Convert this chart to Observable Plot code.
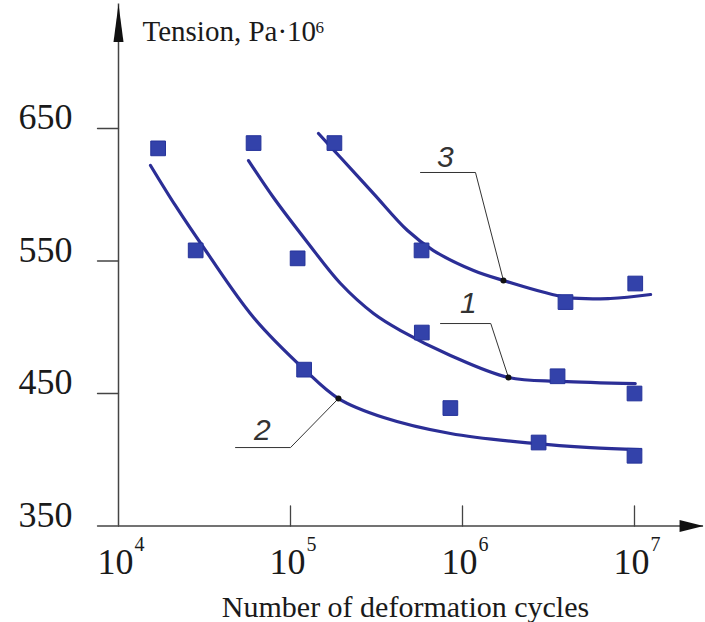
<!DOCTYPE html>
<html><head><meta charset="utf-8">
<script src="https://cdn.jsdelivr.net/npm/d3@7"></script>
<script src="https://cdn.jsdelivr.net/npm/@observablehq/plot@0.6"></script>
<style>body{margin:0;background:#fff;} svg{display:block}</style>
</head><body><div id="chart"></div>
<script>
// ---- axis definitions ----
const yTicks = [350, 450, 550, 650];
const xTicks = [1e4, 1e5, 1e6, 1e7];
const xTickBase = "10";
const xTickExp = ["4", "5", "6", "7"];
const yTitle = "Tension, Pa·10";
const yTitleExp = "6";
const xTitle = "Number of deformation cycles";
const xAxisEnd = 2.52e7;   // arrow tip of the x axis (cycles)
const yAxisEnd = 744;      // arrow tip of the y axis (Pa·10^6)

// ---- measured points (squares) ----
const series1N = [6.1e4, 1.10e5, 5.8e5, 3.57e6, 1e7];
const series1S = [639, 552, 496, 463, 450];
const series2N = [1.7e4, 2.81e4, 1.2e5, 8.5e5, 2.77e6, 1e7];
const series2S = [635, 558, 468, 439, 413, 403];
const series3N = [1.8e5, 5.78e5, 3.97e6, 1.01e7];
const series3S = [639, 558, 519, 533];

// ---- fitted curves ----
const curve1N = [5.70e4, 7.96e4, 1.256e5, 1.954e5, 3.04e5, 4.37e5, 8.51e5, 1.85e6, 3.72e6, 1.01e7];
const curve1S = [625.8, 597.9, 564.0, 533.0, 510.4, 497.5, 478.7, 462.1, 459.1, 457.5];
const curve2N = [1.535e4, 2.14e4, 3.21e4, 6.10e4, 1.205e5, 1.90e5, 3.48e5, 8.51e5, 2.59e6, 5.55e6, 1.08e7];
const curve2S = [622.1, 591.9, 557.9, 507.4, 468.1, 446.2, 431.9, 419.8, 412.3, 409.2, 407.7];
const curve3N = [1.455e5, 1.954e5, 3.04e5, 4.79e5, 6.78e5, 1.159e6, 1.73e6, 4.07e6, 7.24e6, 1.24e7];
const curve3S = [646.2, 628.1, 600.9, 573.0, 557.9, 542.8, 535.3, 522.5, 521.7, 524.7];

// ---- callout labels ----
const calloutText = ["1", "2", "3"];
const calloutLabelN = [1.08e6, 6.87e4, 7.96e5];
const calloutLabelS = [517.9, 422.1, 628.5];
const leaderSeries = ["1", "1", "1", "2", "2", "2", "3", "3", "3"];
const leaderN = [7.45e5, 1.46e6, 1.85e6, 4.79e4, 1.0e5, 1.90e5, 5.70e5, 1.19e6, 1.73e6];
const leaderS = [502.8, 502.8, 462.1, 409.2, 409.2, 446.2, 616.8, 616.8, 535.3];
const calloutDotN = [1.85e6, 1.90e5, 1.73e6];
const calloutDotS = [462.1, 446.2, 535.3];

// ---- build tables ----
const points = [
  ...series1N.map((n, i) => ({series: "1", n, s: series1S[i]})),
  ...series2N.map((n, i) => ({series: "2", n, s: series2S[i]})),
  ...series3N.map((n, i) => ({series: "3", n, s: series3S[i]}))
];
const curves = [
  ...curve1N.map((n, i) => ({series: "1", n, s: curve1S[i]})),
  ...curve2N.map((n, i) => ({series: "2", n, s: curve2S[i]})),
  ...curve3N.map((n, i) => ({series: "3", n, s: curve3S[i]}))
];
const leaders = leaderN.map((n, i) => ({series: leaderSeries[i], n, s: leaderS[i]}));
const labels = calloutText.map((t, i) => ({t, n: calloutLabelN[i], s: calloutLabelS[i]}));
const dots = calloutDotN.map((n, i) => ({n, s: calloutDotS[i]}));

const filledHead = {draw(c, l, r) { c.moveTo(-r, 0); c.lineTo(0, -l); c.lineTo(r, 0); c.closePath(); }};
const tickLine = {draw(c, l) { c.moveTo(0, 0); c.lineTo(0, -l); }};

const axisColor = "#444";
const textColor = "#1a1a1a";
const lineColor = "#2b2e96";

const chart = Plot.plot({
  width: 705,
  height: 622,
  marginLeft: 118,
  marginRight: 71,
  marginTop: 128,
  marginBottom: 96.5,
  style: {fontFamily: "Liberation Serif", background: "#fff", color: textColor},
  x: {type: "log", domain: [1e4, 1e7], axis: null},
  y: {domain: [350, 650], axis: null},
  marks: [
    // axis lines
    Plot.ruleY([350], {x1: 1e4, x2: xAxisEnd, stroke: axisColor, strokeWidth: 1.5}),
    Plot.ruleX([1e4], {y1: 350, y2: yAxisEnd, stroke: axisColor, strokeWidth: 1.5}),
    Plot.vector([xAxisEnd], {x: d => d, y: 350, rotate: 90, length: 24, r: 6, anchor: "end", shape: filledHead, fill: "#111", stroke: "none"}),
    Plot.vector([yAxisEnd], {x: 1e4, y: d => d, rotate: 0, length: 38, r: 5, anchor: "end", shape: filledHead, fill: "#111", stroke: "none"}),
    // y ticks (outward) and labels
    Plot.vector(yTicks, {y: d => d, frameAnchor: "left", rotate: -90, length: 21, r: 0, anchor: "start", shape: tickLine, stroke: axisColor, strokeWidth: 1.3}),
    Plot.text(yTicks, {y: d => d, frameAnchor: "left", text: d => String(d), textAnchor: "end", lineAnchor: "middle", dx: -46, dy: -11, fontSize: 36, fill: textColor}),
    // x ticks (inward) and labels
    Plot.vector(xTicks.slice(1), {x: d => d, frameAnchor: "bottom", length: 20, r: 0, anchor: "start", shape: tickLine, stroke: axisColor, strokeWidth: 1.3}),
    Plot.text(xTicks, {x: d => d, frameAnchor: "bottom", text: () => xTickBase, lineAnchor: "middle", dx: -3, dy: 36, fontSize: 36, fill: textColor}),
    Plot.text(xTicks, {x: d => d, frameAnchor: "bottom", text: (d, i) => xTickExp[i], textAnchor: "start", lineAnchor: "middle", dx: 16, dy: 19, fontSize: 20, fill: textColor}),
    // titles
    Plot.text([yTitle], {frameAnchor: "top-left", text: d => d, textAnchor: "start", lineAnchor: "middle", dx: 24, dy: -97, fontSize: 29, fill: textColor}),
    Plot.text([yTitleExp], {frameAnchor: "top-left", text: d => d, textAnchor: "start", lineAnchor: "middle", dx: 197, dy: -101, fontSize: 17, fill: textColor}),
    Plot.text([xTitle], {frameAnchor: "bottom", text: d => d, lineAnchor: "middle", dx: 29, dy: 81, fontSize: 30, fill: textColor}),
    // fitted curves
    Plot.line(curves, {x: "n", y: "s", z: "series", curve: "catmull-rom", stroke: lineColor, strokeWidth: 3.2}),
    // callout leaders
    Plot.line(leaders, {x: "n", y: "s", z: "series", stroke: "#333", strokeWidth: 1}),
    Plot.dot(dots, {x: "n", y: "s", r: 3, fill: "#111"}),
    Plot.text(labels, {x: "n", y: "s", text: "t", fontSize: 30, fontStyle: "italic", fontFamily: "Liberation Sans", fill: "#333"}),
    // measured points
    Plot.dot(points, {x: "n", y: "s", symbol: "square", r: 8.3, fill: "#3342aa", stroke: "#25339a", strokeWidth: 1})
  ]
});
document.getElementById("chart").appendChild(chart);
</script></body></html>
